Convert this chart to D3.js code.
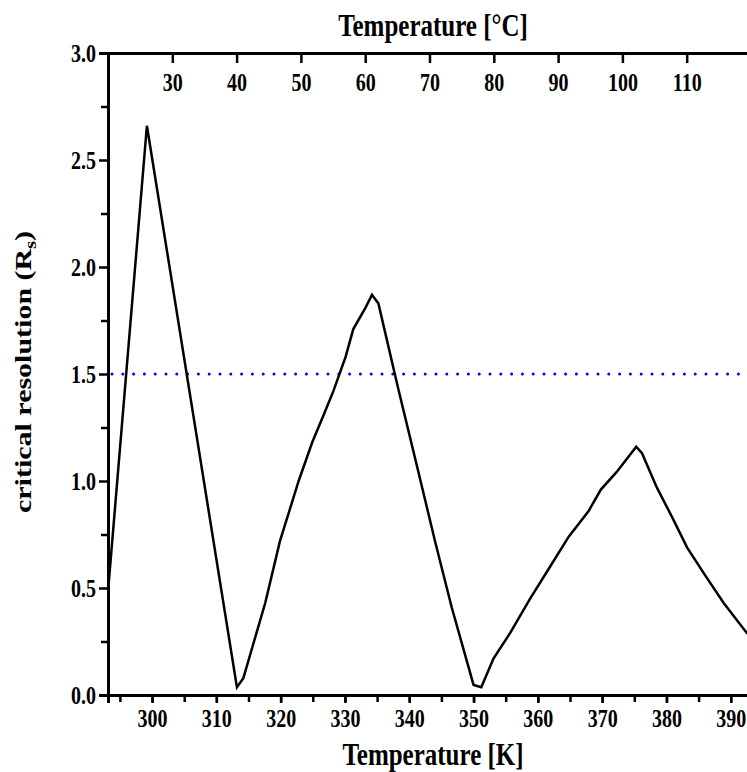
<!DOCTYPE html>
<html>
<head>
<meta charset="utf-8">
<script src="https://cdn.jsdelivr.net/npm/d3@7"></script>
<style>
  body { margin: 0; background: #fff; }
  text { font-family: "Liberation Serif", "Times New Roman", serif; font-weight: bold; }
</style>
</head>
<body>
<svg id="chart"></svg>
<script>
// temperature in K, critical resolution Rs
var tempK = [293.2, 299.2, 313.2, 314.2, 317.6, 319.9, 322.8, 324.9, 326.7, 328.2, 330.1, 331.3, 333.2, 334.2, 335.2,
    338.3, 341.2, 344.0, 346.6, 350.0, 351.2, 353.1, 355.7, 358.8, 361.7, 364.8, 367.9, 369.8, 372.2, 375.3,
    376.2, 378.5, 380.9, 383.2, 386.0, 388.9, 392.5, 393.2];
var rs = [0.50, 2.66, 0.036, 0.079, 0.43, 0.72, 1.00, 1.18, 1.31, 1.42, 1.58, 1.71, 1.81, 1.87, 1.83,
    1.43, 1.07, 0.72, 0.41, 0.047, 0.036, 0.17, 0.29, 0.45, 0.59, 0.74, 0.86, 0.96, 1.04, 1.16,
    1.13, 0.97, 0.83, 0.69, 0.56, 0.43, 0.29, 0.27];
var threshold = 1.5;
var kTicks = [300, 310, 320, 330, 340, 350, 360, 370, 380, 390];
var cTicks = [30, 40, 50, 60, 70, 80, 90, 100, 110];
var yTicks = [0, 0.5, 1.0, 1.5, 2.0, 2.5, 3.0];

var W = 747, H = 772;
var pLeft = 108, pTop = 53, pRight = 751, pBottom = 695;
var stretch = 1.25; // the original figure's text is drawn tall and narrow

var svg = d3.select("#chart").attr("width", W).attr("height", H);

var x = d3.scaleLinear().domain([293.15, 393.15]).range([pLeft, pRight]);
var xc = d3.scaleLinear().domain([20, 120]).range([pLeft, pRight]);
var y = d3.scaleLinear().domain([0, 3]).range([pBottom, pTop]);

var data = tempK.map(function (k, i) { return {k: k, v: rs[i]}; });

svg.append("clipPath").attr("id", "plot")
    .append("rect").attr("x", pLeft).attr("y", pTop).attr("width", pRight - pLeft).attr("height", pBottom - pTop);

// threshold line
svg.append("line")
    .attr("x1", pLeft + 4).attr("x2", pRight)
    .attr("y1", y(threshold)).attr("y2", y(threshold))
    .attr("stroke", "#0000ff").attr("stroke-width", 3)
    .attr("stroke-linecap", "round")
    .attr("stroke-dasharray", "0 10.8");

var line = d3.line()
    .x(function (d) { return x(d.k); })
    .y(function (d) { return y(d.v); });

svg.append("path")
    .datum(data)
    .attr("clip-path", "url(#plot)")
    .attr("d", line)
    .attr("fill", "none")
    .attr("stroke", "#000")
    .attr("stroke-width", 2.5)
    .attr("stroke-linejoin", "miter");

function styleAxis(g) {
    g.selectAll("path, line").attr("stroke", "#000").attr("stroke-width", 2.5);
    g.select(".domain").attr("stroke-width", 3);
    g.selectAll(".tick text").attr("font-size", 20).attr("fill", "#000")
        .style("font-family", '"Liberation Serif", serif').style("font-weight", "bold")
        .each(function () {
            var t = d3.select(this);
            var ty = +t.attr("y") || 0;
            t.attr("y", 0).attr("transform", "translate(0," + ty + ") scale(1," + stretch + ")");
        });
}

// bottom minor ticks
svg.append("g").attr("transform", "translate(0," + pBottom + ")")
    .call(d3.axisBottom(x).tickValues(d3.range(295, 395, 5)).tickSize(7).tickFormat(""))
    .call(styleAxis);
svg.append("g").attr("transform", "translate(0," + pBottom + ")")
    .call(d3.axisBottom(x).tickValues(kTicks).tickSize(8).tickPadding(6).tickFormat(d3.format("d")))
    .call(styleAxis);

// top axis in °C, ticks pointing into the plot
svg.append("g").attr("transform", "translate(0," + pTop + ")")
    .call(d3.axisBottom(xc).tickValues(cTicks).tickSize(10).tickPadding(10).tickFormat(d3.format("d")))
    .call(styleAxis);

// left axis
svg.append("g").attr("transform", "translate(" + pLeft + ",0)")
    .call(d3.axisLeft(y).tickValues(d3.range(0.25, 3, 0.5)).tickSize(7).tickFormat(""))
    .call(styleAxis);
svg.append("g").attr("transform", "translate(" + pLeft + ",0)")
    .call(d3.axisLeft(y).tickValues(yTicks).tickSize(9).tickPadding(3).tickFormat(d3.format(".1f")))
    .call(styleAxis);

// titles
svg.append("text")
    .attr("transform", "translate(433,36) scale(1," + stretch + ")")
    .attr("text-anchor", "middle").attr("font-size", 25)
    .text("Temperature [°C]");

svg.append("text")
    .attr("transform", "translate(433,765) scale(1," + stretch + ")")
    .attr("text-anchor", "middle").attr("font-size", 25)
    .text("Temperature [K]");

var yl = svg.append("text")
    .attr("transform", "translate(31,372) rotate(-90) scale(" + stretch + ",1)")
    .attr("text-anchor", "middle").attr("font-size", 24);
yl.append("tspan").text("critical resolution (R");
yl.append("tspan").attr("font-size", 16).attr("dy", 5).text("s");
yl.append("tspan").attr("dy", -5).text(")");
</script>
</body>
</html>
